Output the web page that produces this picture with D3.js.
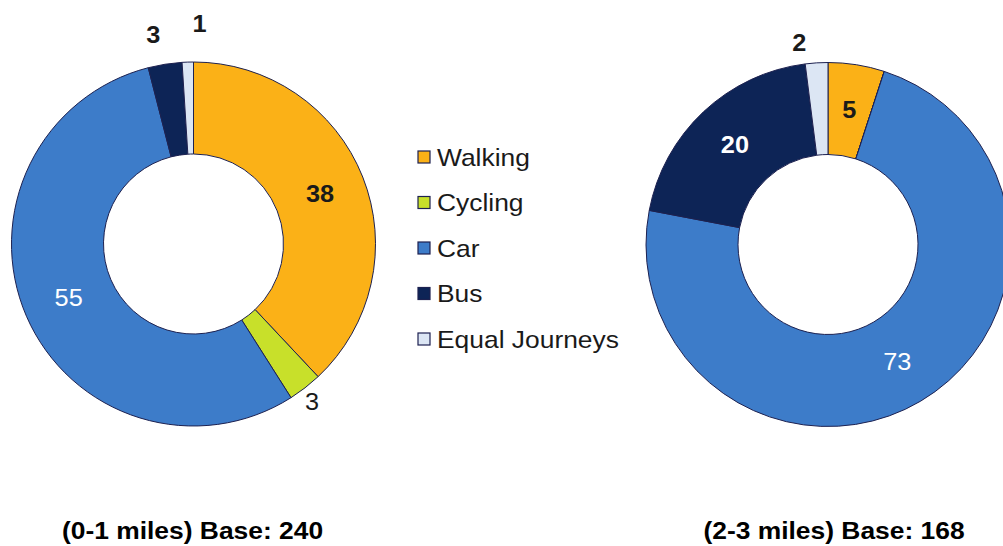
<!DOCTYPE html>
<html>
<head>
<meta charset="utf-8">
<script src="https://cdn.jsdelivr.net/npm/d3@7"></script>
<style>
  html, body { margin: 0; padding: 0; background: #ffffff; }
  svg { display: block; font-family: "Liberation Sans", Arial, sans-serif; }
</style>
</head>
<body>
<svg id="chart" width="1003" height="546"></svg>
<script>
// ---- data ----
const categories = ["Walking", "Cycling", "Car", "Bus", "Equal Journeys"];
const valuesShort = [38, 3, 55, 3, 1];   // 0-1 miles
const valuesLong  = [5, 0, 73, 20, 2];   // 2-3 miles
const chartTitles = ["(0-1 miles) Base: 240", "(2-3 miles) Base: 168"];

// ---- style ----
const colors = ["#FBB117", "#C8E02A", "#3D7CC9", "#0D2456", "#DCE6F4"];
const labelColors = ["#1a1a1a", "#1a1a1a", "#ffffff", "#ffffff", "#1a1a1a"];
// label placement per chart: null = at centroid, number = radius outside ring
const placeShort = [null, 200, null, 212, 220];
const placeLong  = [null, null, null, null, 202];
const nudgeShort = [0, -4, 0, -7, 13];
const nudgeLong  = [0, 0, 0, 0, -16];
const weightShort = ["bold", "normal", "normal", "bold", "bold"];
const weightLong  = ["bold", "normal", "normal", "bold", "bold"];
const stretch = 1.1;

const svg = d3.select("#chart");
const outerR = 182, innerR = 90;

const pie = d3.pie().sort(null).value(d => d);
const arc = d3.arc().innerRadius(innerR).outerRadius(outerR);

function drawDonut(values, cx, cy, title, titleShift, place, nudge, weight) {
  const g = svg.append("g").attr("transform", `translate(${cx},${cy})`);
  const arcs = pie(values);
  g.selectAll("path.slice").data(arcs).join("path")
    .attr("class", "slice")
    .attr("d", arc)
    .attr("fill", (d, i) => colors[i])
    .attr("stroke", "#1d2150")
    .attr("stroke-width", 1)
    .attr("stroke-linejoin", "round");

  g.selectAll("text.lbl").data(arcs.filter(d => d.data > 0)).join("text")
    .attr("class", "lbl")
    .attr("transform", d => {
      const i = d.index;
      let p;
      if (place[i] == null) p = arc.centroid(d);
      else p = d3.arc().innerRadius(place[i]).outerRadius(place[i]).centroid(d);
      return `translate(${p[0] + nudge[i]},${p[1]}) scale(${stretch},1)`;
    })
    .attr("text-anchor", "middle")
    .attr("dominant-baseline", "central")
    .attr("font-size", 23)
    .attr("font-weight", d => weight[d.index])
    .attr("fill", d => place[d.index] == null ? labelColors[d.index] : "#1a1a1a")
    .text(d => d.data);

  svg.append("text")
    .attr("transform", `translate(${cx + titleShift},539) scale(${stretch},1)`)
    .attr("text-anchor", "middle")
    .attr("font-size", 24)
    .attr("font-weight", "bold")
    .attr("fill", "#000")
    .text(title);
}

drawDonut(valuesShort, 193.5, 244, chartTitles[0], -1, placeShort, nudgeShort, weightShort);
drawDonut(valuesLong, 828, 244.5, chartTitles[1], 6, placeLong, nudgeLong, weightLong);

// ---- legend ----
const legendY = d3.scalePoint().domain(categories).range([157, 339]);
const lg = svg.append("g");
const items = lg.selectAll("g.item").data(categories).join("g")
  .attr("class", "item")
  .attr("transform", d => `translate(418,${legendY(d)})`);
items.append("rect")
  .attr("x", 0).attr("y", -6)
  .attr("width", 12).attr("height", 12)
  .attr("fill", (d, i) => colors[i])
  .attr("stroke", "#1d2150")
  .attr("stroke-width", 1.2);
items.append("text")
  .attr("transform", `translate(19,0) scale(${stretch},1)`)
  .attr("dominant-baseline", "central")
  .attr("font-size", 24)
  .attr("fill", "#1a1a1a")
  .text(d => d);
</script>
</body>
</html>
